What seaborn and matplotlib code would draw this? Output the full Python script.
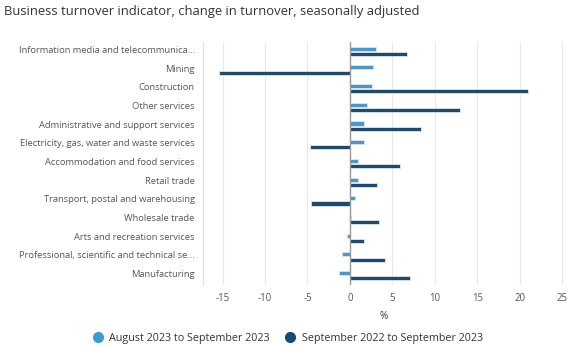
import matplotlib
matplotlib.use("Agg")
import matplotlib.pyplot as plt
import matplotlib.transforms as mtransforms
import seaborn as sns
import pandas as pd
from matplotlib.lines import Line2D

categories = [
    "Information media and telecommunica…",
    "Mining",
    "Construction",
    "Other services",
    "Administrative and support services",
    "Electricity, gas, water and waste services",
    "Accommodation and food services",
    "Retail trade",
    "Transport, postal and warehousing",
    "Wholesale trade",
    "Arts and recreation services",
    "Professional, scientific and technical se…",
    "Manufacturing",
]
series_names = ["August 2023 to September 2023", "September 2022 to September 2023"]
monthly = [3.1, 2.7, 2.6, 2.0, 1.6, 1.6, 0.9, 0.9, 0.6, 0.15, -0.35, -0.9, -1.25]
annual = [6.7, -15.4, 21.0, 13.0, 8.4, -4.7, 5.9, 3.2, -4.6, 3.4, 1.6, 4.1, 7.1]
x_ticks = [-15, -10, -5, 0, 5, 10, 15, 20, 25]
colors = ["#3d9ad6", "#174b73"]

df = pd.DataFrame({
    "category": categories * 2,
    "series": [series_names[0]] * len(categories) + [series_names[1]] * len(categories),
    "value": monthly + annual,
})

sns.set_theme(style="white")
plt.rcParams["font.family"] = ["Open Sans", "DejaVu Sans"]

fig = plt.figure(figsize=(5.8, 3.49), dpi=100)
ax = fig.add_axes([203 / 580, 1 - 285 / 349, (564 - 203) / 580, (285 - 42) / 349])

sns.barplot(data=df, y="category", x="value", hue="series", order=categories,
            hue_order=series_names, palette=colors, orient="h", width=0.56, gap=0.22,
            edgecolor="#dbe7f0", linewidth=0.6, ax=ax, legend=False, zorder=3)

ax.set_xlim(-17.3, 25.2)
ax.set_ylim(12.5, -0.5)
ax.set_xticks(x_ticks)
ax.set_xticklabels([str(t) for t in x_ticks])
ax.grid(axis="x", color="#e6e9ec", linewidth=0.8, zorder=0)
ax.grid(axis="y", visible=False)
ax.axvline(0, color="#9a9a9a", linewidth=1.0, zorder=4)
for s in ["top", "right", "bottom"]:
    ax.spines[s].set_visible(False)
ax.spines["left"].set_color("#e0e4e8")
ax.spines["left"].set_linewidth(0.8)
ax.tick_params(axis="both", length=0, labelcolor="#555555")
ax.tick_params(axis="y", pad=6, labelsize=6.75)
ax.tick_params(axis="x", pad=6, labelsize=6.9)
ax.set_ylabel("")
ax.set_xlabel("%", fontsize=7.2, color="#333333", labelpad=5)

offset = mtransforms.ScaledTranslation(0, 2 / 100, fig.dpi_scale_trans)
for lab in ax.get_yticklabels():
    lab.set_transform(lab.get_transform() + offset)

fig.text(4 / 580, 1 - 11 / 349, "Business turnover indicator, change in turnover, seasonally adjusted",
         fontsize=9.35, color="#333333", va="center", ha="left")

handles = [Line2D([0], [0], marker="o", linestyle="", markersize=7, markerfacecolor=c,
                  markeredgecolor=c) for c in colors]
fig.legend(handles, series_names, loc="center", bbox_to_anchor=(285 / 580, 1 - 338 / 349),
           ncol=2, frameon=False, fontsize=7.75, handletextpad=0.05, columnspacing=0.9,
           labelcolor="#333333")

fig.savefig("out.png", dpi=100)
